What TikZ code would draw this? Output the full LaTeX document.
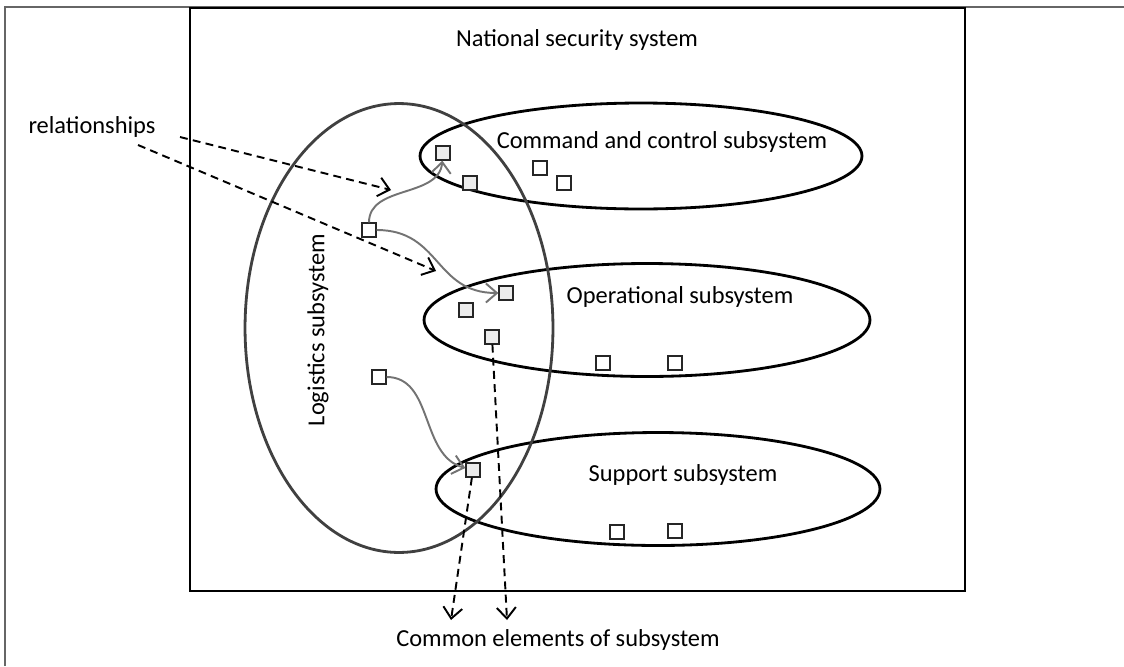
\documentclass[tikz,border=0pt]{standalone}
\usepackage{fontspec}
\setmainfont{Carlito}
\usetikzlibrary{arrows.meta, shapes.geometric}

\begin{document}
\begin{tikzpicture}[x=0.02cm, y=-0.02cm, >={Straight Barb[length=2.2mm, width=3.8mm]},
    semithick, inner sep=1pt,
    every node/.style={font=\fontsize{13.9}{16}\selectfont}]

  \tikzstyle{sub}=[draw, ellipse, line width=1.6pt, inner sep=0pt]
  \tikzstyle{elem}=[draw=black!85, minimum size=0.28cm, inner sep=0pt, line width=0.7pt]
  \tikzstyle{shared}=[elem, fill=gray!15]
  \tikzstyle{rel}=[->, draw=black!55, line width=1.1pt]
  \tikzstyle{pointer}=[->, dash pattern=on 4.5pt off 3pt, line width=1.1pt]

  \useasboundingbox (0,0) rectangle (1124,666);
  \draw[black!60, line width=1.2pt] (5,666) -- (5,7) -- (1124,7);

  \node[draw, line width=1.2pt, minimum width=15.5cm, minimum height=11.66cm] (NSS) at (577.5,299.5) {};
  \node (TITLE) at (577,40) {National security system};

  % subsystems
  \node[sub, minimum width=8.84cm, minimum height=2.12cm] (CMD) at (641,156) {};
  \node[sub, minimum width=8.92cm, minimum height=2.26cm] (OPS) at (647,320) {};
  \node[sub, minimum width=8.88cm, minimum height=2.26cm] (SUP) at (658,489) {};
  \node[sub, draw=black!75, minimum width=6.16cm, minimum height=8.98cm] (LOG) at (399,328) {};

  \node (CMDTXT) at (662,142) {Command and control subsystem};
  \node (OPSTXT) at (680,297) {Operational subsystem};
  \node (SUPTXT) at (683,475) {Support subsystem};
  \node[rotate=90] (LOGTXT) at (318,330) {Logistics subsystem};

  % elements
  \node[shared] (C1) at (443,153) {};
  \node[shared] (C2) at (470,183) {};
  \node[elem]   (C3) at (540,168) {};
  \node[elem]   (C4) at (564,183) {};
  \node[elem]   (L1) at (369,230) {};
  \node[shared] (O1) at (506,293) {};
  \node[shared] (O2) at (466,310) {};
  \node[shared] (O3) at (492,337) {};
  \node[elem]   (O4) at (603,363) {};
  \node[elem]   (O5) at (675,363) {};
  \node[elem]   (L2) at (379,377) {};
  \node[shared] (S1) at (473,470) {};
  \node[elem]   (S2) at (617,532) {};
  \node[elem]   (S3) at (675,531) {};

  \node (RELS) at (92,127) {relationships};
  \node (COMMON) at (558,640) {Common elements of subsystem};

  \coordinate (R1) at (180,137);
  \coordinate (R1END) at (391,190);
  \coordinate (R2) at (138,145);
  \coordinate (R2END) at (436,271);
  \coordinate (E1) at (451,620);
  \coordinate (E2) at (507,620);

  \path[rel]
  (L1) edge [out=90, in=-95] (C1)
  edge [out=0, in=180, looseness=1.2] (O1)
  (L2) edge [out=0, in=165] (S1);

  \path[pointer]
  (R1) edge (R1END)
  (R2) edge (R2END)
  (S1) edge (E1)
  (O3) edge (E2);
\end{tikzpicture}
\end{document}
